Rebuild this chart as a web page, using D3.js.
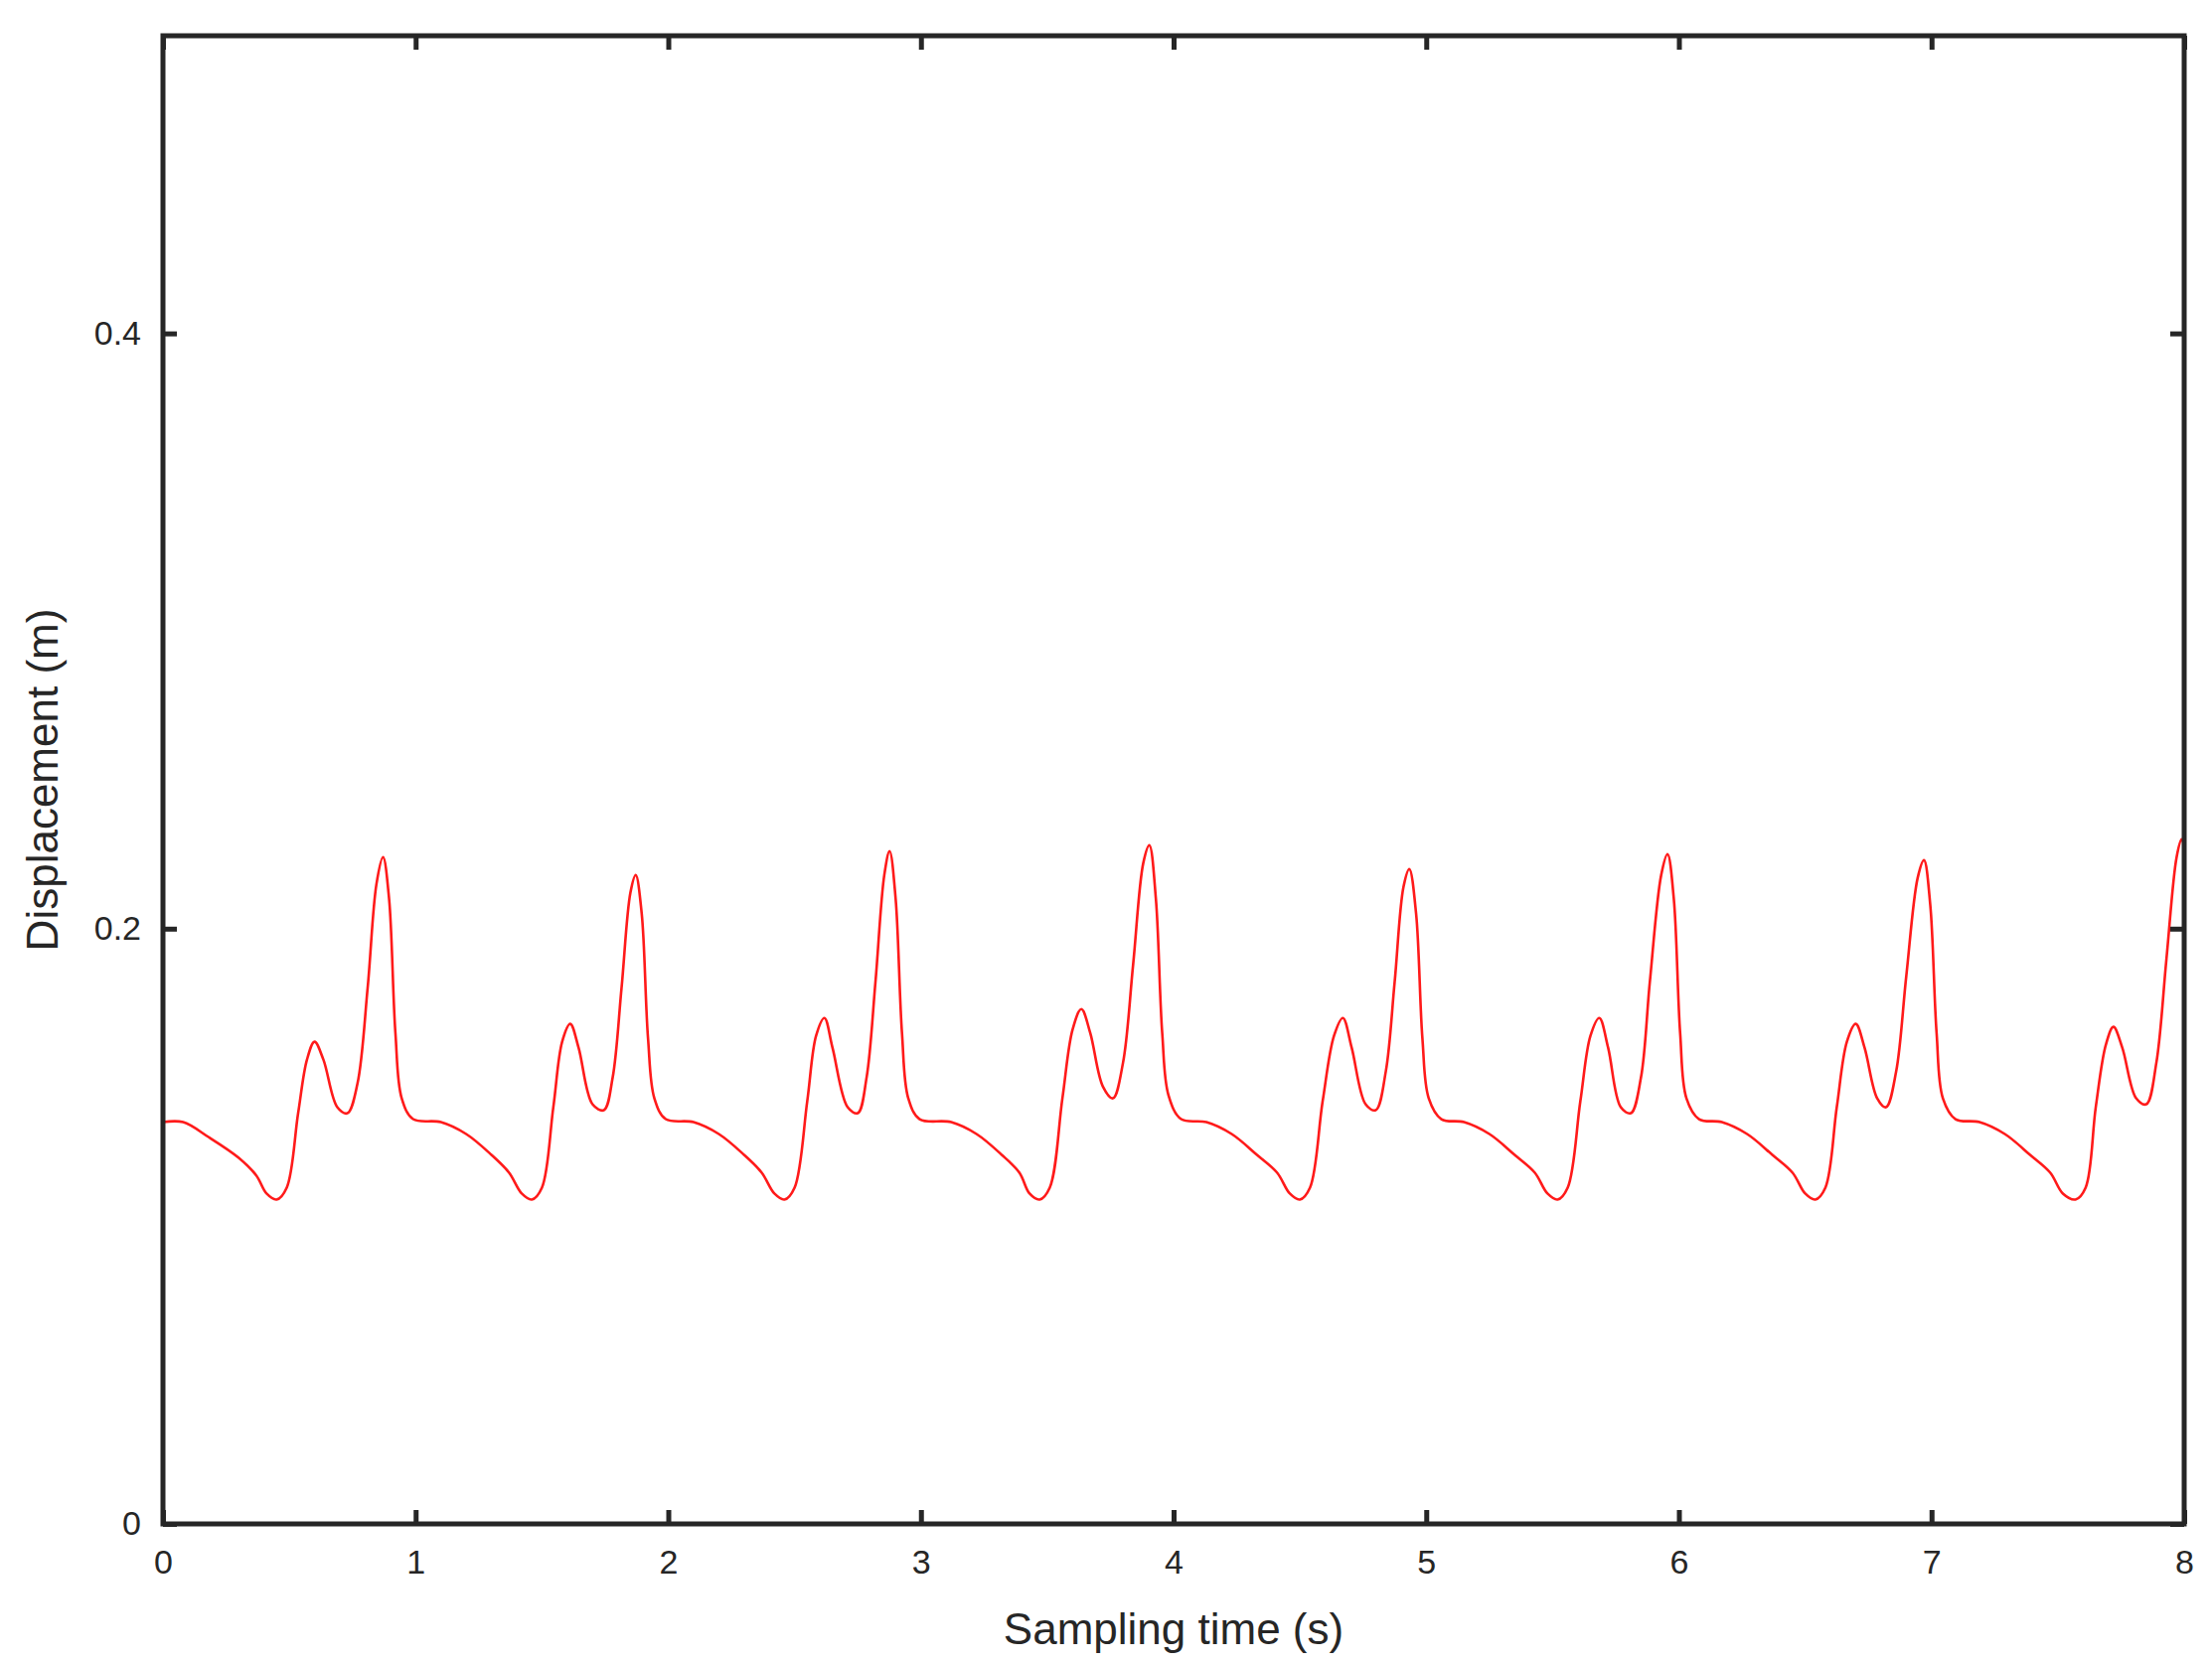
<!DOCTYPE html>
<html><head><meta charset="utf-8">
<script src="https://cdn.jsdelivr.net/npm/d3@7"></script>
<style>body{margin:0;background:#fff}</style></head>
<body><svg id="c" width="2226" height="1674"></svg>
<script>
const xTicks=[0,1,2,3,4,5,6,7,8];
const yTicks=[0,0.2,0.4];
const yTickLabels=["0","0.2","0.4"];
const series=[[0,0.135],[0.08,0.135],[0.18,0.130],[0.3,0.123],[0.37,0.117],[0.41,0.111],[0.45,0.109],[0.49,0.113],[0.535,0.138],[0.57,0.156],[0.60,0.162],[0.635,0.156],[0.69,0.140],[0.73,0.138],[0.77,0.148],[0.81,0.180],[0.845,0.215],[0.871,0.224],[0.895,0.210],[0.92,0.165],[0.945,0.143],[0.99,0.136],
[1.10,0.135],[1.2,0.131],[1.3,0.124],[1.37,0.118],[1.42,0.111],[1.46,0.109],[1.50,0.113],[1.545,0.140],[1.58,0.162],[1.612,0.168],[1.645,0.160],[1.70,0.141],[1.745,0.139],[1.78,0.150],[1.815,0.180],[1.85,0.212],[1.871,0.218],[1.895,0.205],[1.92,0.163],[1.945,0.143],[1.99,0.136],
[2.1,0.135],[2.2,0.131],[2.3,0.124],[2.37,0.118],[2.42,0.111],[2.46,0.109],[2.50,0.113],[2.55,0.142],[2.585,0.164],[2.618,0.170],[2.65,0.160],[2.71,0.140],[2.75,0.138],[2.785,0.150],[2.82,0.182],[2.855,0.218],[2.876,0.226],[2.90,0.210],[2.925,0.165],[2.95,0.143],[2.995,0.136],
[3.12,0.135],[3.22,0.131],[3.32,0.124],[3.39,0.118],[3.43,0.111],[3.47,0.109],[3.51,0.113],[3.56,0.143],[3.60,0.166],[3.635,0.173],[3.67,0.165],[3.72,0.147],[3.76,0.143],[3.80,0.155],[3.84,0.188],[3.88,0.222],[3.904,0.228],[3.93,0.210],[3.955,0.165],[3.98,0.144],[4.03,0.136],
[4.13,0.135],[4.23,0.131],[4.33,0.124],[4.41,0.118],[4.46,0.111],[4.50,0.109],[4.54,0.113],[4.59,0.142],[4.635,0.164],[4.67,0.170],[4.705,0.160],[4.76,0.141],[4.80,0.139],[4.84,0.152],[4.875,0.182],[4.91,0.214],[4.933,0.220],[4.96,0.205],[4.985,0.163],[5.01,0.143],[5.06,0.136],
[5.15,0.135],[5.25,0.131],[5.35,0.124],[5.43,0.118],[5.48,0.111],[5.52,0.109],[5.56,0.113],[5.61,0.142],[5.65,0.164],[5.685,0.170],[5.72,0.160],[5.77,0.140],[5.81,0.138],[5.85,0.150],[5.885,0.182],[5.93,0.218],[5.955,0.225],[5.98,0.210],[6.005,0.165],[6.03,0.143],[6.08,0.136],
[6.17,0.135],[6.27,0.131],[6.37,0.124],[6.45,0.118],[6.50,0.111],[6.54,0.109],[6.58,0.113],[6.625,0.140],[6.665,0.162],[6.70,0.168],[6.735,0.160],[6.785,0.143],[6.82,0.140],[6.86,0.152],[6.90,0.184],[6.945,0.217],[6.97,0.223],[6.995,0.208],[7.02,0.165],[7.045,0.143],[7.095,0.136],
[7.19,0.135],[7.29,0.131],[7.39,0.124],[7.47,0.118],[7.52,0.111],[7.57,0.109],[7.61,0.113],[7.65,0.140],[7.69,0.161],[7.72,0.167],[7.755,0.160],[7.81,0.143],[7.85,0.141],[7.89,0.155],[7.93,0.190],[7.97,0.224],[7.99,0.230],[8.0,0.228]];

const L=164,R=2198,T=36,B=1534;
const svg=d3.select("#c");
const x=d3.scaleLinear().domain([0,8]).range([L,R]);
const y=d3.scaleLinear().domain([0,0.5]).range([B,T]);
const col="#262626", font="'Liberation Sans', Arial, sans-serif";

svg.append("path").datum(series)
  .attr("d",d3.line().x(d=>x(d[0])).y(d=>y(d[1])).curve(d3.curveCatmullRom.alpha(0.5)))
  .attr("fill","none").attr("stroke","#ff1a1a").attr("stroke-width",2.6);

const tl=14;
const gB=svg.append("g").attr("transform",`translate(0,${B})`).call(d3.axisBottom(x).tickValues(xTicks).tickSize(-tl).tickPadding(26).tickFormat(d3.format("d")));
const gT=svg.append("g").attr("transform",`translate(0,${T})`).call(d3.axisTop(x).tickValues(xTicks).tickSize(-tl).tickFormat(""));
const gL=svg.append("g").attr("transform",`translate(${L},0)`).call(d3.axisLeft(y).tickValues(yTicks).tickSize(-tl).tickPadding(22).tickFormat((d,i)=>yTickLabels[i]));
const gR=svg.append("g").attr("transform",`translate(${R},0)`).call(d3.axisRight(y).tickValues(yTicks).tickSize(-tl).tickFormat(""));
[gB,gT,gL,gR].forEach(g=>{
  g.select(".domain").remove();
  g.selectAll("line").attr("stroke",col).attr("stroke-width",5);
  g.selectAll("text").attr("fill",col).style("font-family",font).style("font-size","34px");
});
svg.append("rect").attr("x",L).attr("y",T).attr("width",R-L).attr("height",B-T)
  .attr("fill","none").attr("stroke",col).attr("stroke-width",5);

svg.append("text").attr("x",(L+R)/2).attr("y",1655).attr("text-anchor","middle")
  .attr("fill",col).style("font-family",font).style("font-size","44px").text("Sampling time (s)");
svg.append("text").attr("transform",`translate(58,${(T+B)/2}) rotate(-90)`).attr("text-anchor","middle")
  .attr("fill",col).style("font-family",font).style("font-size","44px").text("Displacement (m)");
</script></body></html>
